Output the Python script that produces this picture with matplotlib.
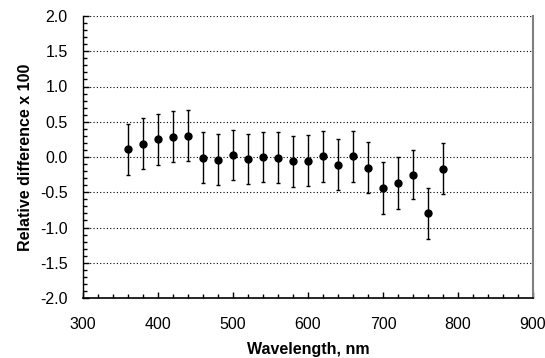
import matplotlib
matplotlib.use("Agg")
import matplotlib.pyplot as plt
from matplotlib.ticker import MultipleLocator, FuncFormatter

plt.rcParams["font.family"] = ["Liberation Sans", "DejaVu Sans"]

wavelength = [360, 380, 400, 420, 440, 460, 480, 500, 520, 540, 560, 580,
              600, 620, 640, 660, 680, 700, 720, 740, 760, 780]
rel_diff = [0.11, 0.19, 0.25, 0.29, 0.30, -0.01, -0.04, 0.03, -0.03, 0.0, -0.01, -0.06,
            -0.05, 0.01, -0.11, 0.01, -0.15, -0.44, -0.37, -0.25, -0.80, -0.165]
err = [0.36, 0.36, 0.36, 0.36, 0.36, 0.36, 0.36, 0.36, 0.36, 0.36, 0.36, 0.36,
       0.36, 0.36, 0.36, 0.36, 0.36, 0.37, 0.37, 0.35, 0.36, 0.36]

fig = plt.figure(figsize=(5.45, 3.58), dpi=100)
ax = fig.add_axes([83 / 545, 1 - 298 / 358, 450 / 545, 282 / 358])

ax.errorbar(wavelength, rel_diff, yerr=err, fmt="o", color="black", ms=5,
            ecolor="black", elinewidth=1, capsize=1.5, capthick=1)

ax.set_xlim(300, 900)
ax.set_ylim(-2, 2)
ax.xaxis.set_major_locator(MultipleLocator(100))
ax.xaxis.set_minor_locator(MultipleLocator(20))
ax.yaxis.set_major_locator(MultipleLocator(0.5))
ax.yaxis.set_minor_locator(MultipleLocator(0.1))
ax.yaxis.set_major_formatter(FuncFormatter(lambda v, p: f"{v:.1f}".replace("\u2212", "-")))

for y in [-1.5, -1.0, -0.5, 0.0, 0.5, 1.0, 1.5, 2.0]:
    ax.axhline(y, color="black", lw=0.8, ls=(0, (1, 2)), zorder=0)

ax.tick_params(which="both", direction="in", top=False, right=False, labelsize=11.5)
ax.tick_params(which="major", length=4, width=1)
ax.tick_params(which="minor", length=3, width=1)
ax.tick_params(axis="x", pad=14)
ax.tick_params(axis="y", pad=11)

ax.spines["top"].set_visible(False)
ax.spines["right"].set_color("#808080")
ax.spines["right"].set_linewidth(1.5)
ax.spines["left"].set_linewidth(1)
ax.spines["bottom"].set_linewidth(1.2)

ax.set_xlabel("Wavelength, nm", fontsize=11.5, fontweight="bold", labelpad=7)
ax.set_ylabel("Relative difference x 100", fontsize=11.5, fontweight="bold", labelpad=5)

fig.savefig("out.png", dpi=100)
